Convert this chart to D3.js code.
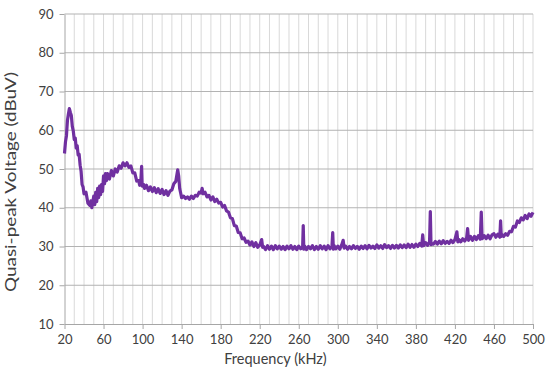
<!DOCTYPE html>
<html><head><meta charset="utf-8">
<script src="https://cdn.jsdelivr.net/npm/d3@7"></script>
<style>body{margin:0;background:#fff}svg{display:block}text{font-family:Lato,"Open Sans",sans-serif;fill:#404040}</style>
</head><body><svg id="c" width="550" height="377"></svg>
<script>
const freq = [20,21,22,23,24,25,26,27,28,29,30,31,32,33,34,35,36,37,38,39,40,42,44,46,47,48,50,51,52,53,54,55,56,57,58,59,60,61,62,63,64,66,68,70,72,74,76,78,80,82,84,86,88,90,92,94,96,97,98,99,99.6,101,102,104,106,108,110,112,114,116,118,120,122,124,126,128,130,132,134,136,137,138,139,140,142,144,146,148,150,152,154,156,158,160,161,162,164,166,168,170,172,174,176,178,180,182,184,186,188,190,192,194,196,198,200,202,204,206,208,210,212,214,216,218,220,222,223,224,226,228,230,232,234,236,238,240,242,244,246,248,250,252,254,256,258,260,262,264,264.6,265.2,266,268,270,272,274,276,278,280,282,284,286,288,290,292,294,294.8,295.5,296,298,300,302,304,305.5,306.5,308,310,312,314,316,318,320,322,324,326,328,330,332,334,336,338,340,342,344,346,348,350,352,354,356,358,360,362,364,366,368,370,372,374,376,378,380,382,384,386,387,388,390,392,394,394.8,395.5,396,398,400,402,404,406,408,410,412,414,416,418,420,422,423,424,426,428,430,432,433,434,436,438,440,442,444,446,447,447.8,448,450,452,454,456,458,460,462,464,466,466.8,467.5,468,470,472,474,476,478,480,482,484,486,488,490,492,494,496,498,500];
const voltage = [54.0,57.0,58.6,62.5,64.2,65.6,64.6,63.8,61.0,59.8,57.6,58.0,55.4,56.0,53.6,53.8,51.0,49.4,46.0,45.4,43.6,
44.0,41.2,40.6,41.8,40.0,43.0,40.8,44.0,41.6,45.0,42.6,45.6,43.4,46.0,44.2,48.2,46.2,48.8,47.0,48.8,
47.4,49.6,48.2,50.0,49.2,50.8,50.2,51.6,50.8,51.6,50.4,50.8,49.0,49.0,46.9,47.0,45.8,46.0,50.7,45.6,
46.0,45.0,45.8,44.4,45.4,44.2,45.2,43.9,44.9,43.7,44.7,43.4,44.4,43.2,44.3,44.6,46.2,46.8,49.8,48.2,45.0,43.8,
42.6,43.0,42.4,42.8,42.2,43.0,42.4,43.2,43.0,44.0,43.8,45.0,43.6,44.0,42.8,43.2,42.0,42.8,41.6,42.2,41.2,
41.4,40.2,40.6,39.2,38.9,37.4,37.2,35.4,35.3,33.6,33.5,32.0,32.2,31.1,31.4,30.4,31.2,30.0,31.0,29.8,30.4,
31.8,29.8,30.0,29.2,30.2,29.3,30.1,29.2,30.2,29.4,30.1,29.3,30.0,29.2,30.1,29.4,30.2,29.3,30.0,29.2,30.1,29.4,29.9,
35.4,29.3,30.1,29.2,30.0,29.4,30.2,29.2,30.0,29.3,30.2,29.4,30.1,29.2,30.2,29.4,30.0,33.6,29.3,30.3,29.4,30.1,29.3,30.4,
31.6,29.6,30.1,29.3,30.0,29.4,30.2,29.5,30.0,29.3,30.1,29.5,30.2,29.4,30.3,29.6,30.1,29.5,30.4,29.6,30.2,29.5,30.5,29.7,
30.2,29.5,30.3,29.6,30.3,29.6,30.4,29.7,30.4,29.7,30.6,29.8,30.5,29.8,30.6,30.0,30.8,30.1,33.0,30.2,31.0,30.3,31.2,
39.0,30.5,30.8,30.6,31.3,30.6,31.4,30.7,31.5,30.8,31.3,30.8,31.6,31.0,31.8,33.8,31.2,31.8,31.2,32.0,31.4,32.2,34.6,31.6,
32.6,31.6,32.6,31.8,32.8,31.9,38.9,32.4,32.0,32.8,32.0,32.9,32.0,33.0,33.3,32.4,33.2,32.4,36.6,32.6,33.1,32.6,33.3,32.9,
33.9,33.8,35.2,35.0,36.6,36.2,37.4,36.9,38.0,37.2,38.4,37.8,38.8];
const xTicks = [20,60,100,140,180,220,260,300,340,380,420,460,500];
const yTicks = [10,20,30,40,50,60,70,80,90];
const xMinorGrid = [30,40,50,70,80,90,110,120,130,150,160,170,190,200,210,230,240,250,270,280,290,310,320,330,350,360,370,390,400,410,430,440,450,470,480,490];
const xTitle = "Frequency (kHz)";
const yTitle = "Quasi-peak Voltage (dBuV)";

const svg = d3.select("#c");
const L=64.5, R=533, T=14, B=324;
const x = d3.scaleLinear().domain([20,500]).range([L,R]);
const y = d3.scaleLinear().domain([10,90]).range([B,T]);

svg.append("g").selectAll("line").data(xMinorGrid.concat(xTicks.slice(1))).join("line")
  .attr("x1",d=>x(d)).attr("x2",d=>x(d)).attr("y1",T).attr("y2",B)
  .attr("stroke","#d9d9d9").attr("stroke-width",1);
svg.append("g").selectAll("line").data(yTicks.slice(1)).join("line")
  .attr("x1",L).attr("x2",R).attr("y1",d=>y(d)).attr("y2",d=>y(d))
  .attr("stroke","#b3b3b3").attr("stroke-width",1);

const xa = svg.append("g").attr("transform",`translate(0,${B})`)
  .call(d3.axisBottom(x).tickValues(xTicks).tickSize(5).tickPadding(6).tickSizeOuter(0));
const ya = svg.append("g").attr("transform",`translate(${L},0)`)
  .call(d3.axisLeft(y).tickValues(yTicks).tickSize(5).tickPadding(6).tickSizeOuter(0));
[xa,ya].forEach(a=>{
  a.select(".domain").attr("stroke","#a6a6a6");
  a.selectAll(".tick line").attr("stroke","#a6a6a6");
  a.selectAll(".tick text").attr("font-size",13).attr("fill","#404040").style("font-family","Lato,'Open Sans',sans-serif");
});

const pts = freq.map((f,i)=>[f,voltage[i]]);
svg.append("path").datum(pts)
  .attr("d", d3.line().x(d=>x(d[0])).y(d=>y(d[1])))
  .attr("fill","none").attr("stroke","#7030a0").attr("stroke-width",3.2).attr("stroke-linejoin","round");

svg.append("text").attr("x",275.5).attr("y",364).attr("text-anchor","middle")
  .attr("font-size",14.5).text(xTitle);
svg.append("text").attr("transform",`translate(16,182) rotate(-90)`).attr("text-anchor","middle")
  .attr("font-size",15).attr("textLength",220).attr("lengthAdjust","spacingAndGlyphs").text(yTitle);
</script></body></html>
